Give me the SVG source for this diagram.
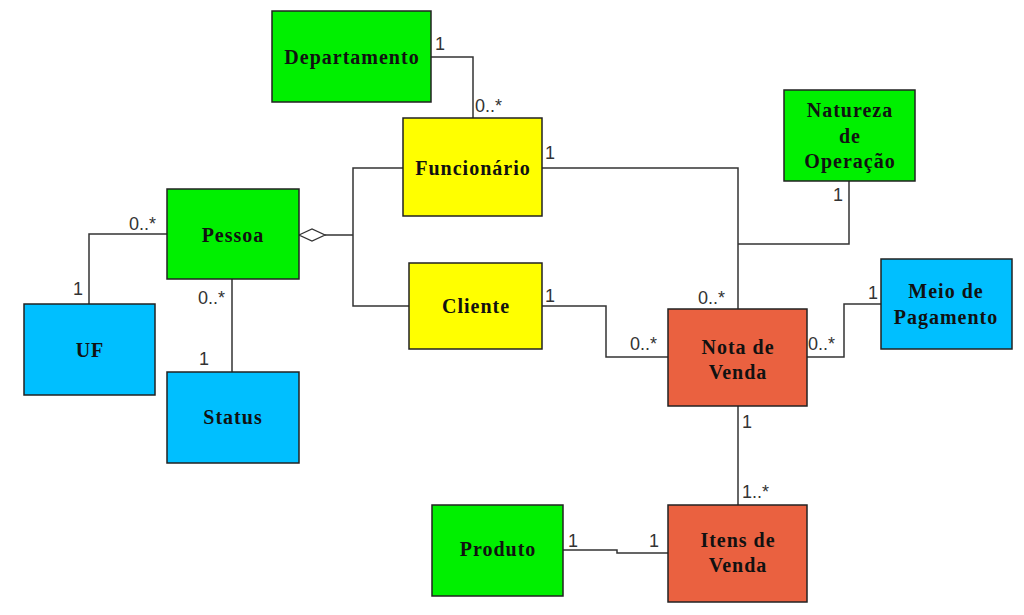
<svg xmlns="http://www.w3.org/2000/svg" width="1024" height="615" viewBox="0 0 1024 615">
<style>
.box{stroke:#222;stroke-width:1.5}
.g{fill:#00f000}.y{fill:#ffff00}.b{fill:#00bfff}.o{fill:#ea6140}
.t{font-family:"Liberation Serif","Times New Roman",serif;font-weight:bold;font-size:20px;letter-spacing:1px;fill:#111;text-anchor:middle}
.m{font-family:"Liberation Sans",Arial,sans-serif;font-size:18px;fill:#333}
.c{fill:none;stroke:#333;stroke-width:1.5}
</style>
<rect width="1024" height="615" fill="#fff"/>
<g id="connectors">
<polyline class="c" points="431,57 473,57 473,118"/>
<polyline class="c" points="542,168 738,168 738,309"/>
<polyline class="c" points="849,181 849,244 738,244"/>
<polyline class="c" points="403,168 353,168 353,306 409,306"/>
<polyline class="c" points="325,235 353,235"/>
<polygon points="299,235 312,229 325,235 312,241" fill="#fff" stroke="#333" stroke-width="1.3"/>
<polyline class="c" points="167,234 89,234 89,304"/>
<polyline class="c" points="232,279 232,372"/>
<polyline class="c" points="542,306 606,306 606,357 668,357"/>
<polyline class="c" points="807,357 844,357 844,304 881,304"/>
<polyline class="c" points="738,406 738,505"/>
<polyline class="c" points="563,550 617,550 617,553 668,553"/>
</g>
<g id="labels">
<text class="m" x="435" y="50">1</text>
<text class="m" x="475" y="112">0..*</text>
<text class="m" x="545" y="159">1</text>
<text class="m" x="129" y="230">0..*</text>
<text class="m" x="73" y="295">1</text>
<text class="m" x="198" y="304">0..*</text>
<text class="m" x="199" y="365">1</text>
<text class="m" x="545" y="302">1</text>
<text class="m" x="630" y="350">0..*</text>
<text class="m" x="698" y="304">0..*</text>
<text class="m" x="833" y="201">1</text>
<text class="m" x="868" y="299">1</text>
<text class="m" x="808" y="350">0..*</text>
<text class="m" x="742" y="428">1</text>
<text class="m" x="742" y="498">1..*</text>
<text class="m" x="568" y="547">1</text>
<text class="m" x="649" y="547">1</text>
</g>
<g id="departamento"><rect class="box g" x="272" y="11" width="159" height="91"/><text class="t" x="352" y="64">Departamento</text></g>
<g id="funcionario"><rect class="box y" x="403" y="118" width="139" height="98"/><text class="t" x="473" y="175">Funcionário</text></g>
<g id="natureza"><rect class="box g" x="784" y="90" width="131" height="91"/><text class="t" x="850" y="117">Natureza</text><text class="t" x="850" y="143">de</text><text class="t" x="850" y="168">Operação</text></g>
<g id="pessoa"><rect class="box g" x="167" y="189" width="132" height="90"/><text class="t" x="233" y="242">Pessoa</text></g>
<g id="cliente"><rect class="box y" x="409" y="263" width="133" height="86"/><text class="t" x="476" y="313">Cliente</text></g>
<g id="uf"><rect class="box b" x="24" y="304" width="131" height="91"/><text class="t" x="90" y="357">UF</text></g>
<g id="status"><rect class="box b" x="167" y="372" width="132" height="91"/><text class="t" x="233" y="424">Status</text></g>
<g id="meio"><rect class="box b" x="881" y="259" width="131" height="90"/><text class="t" x="946" y="298">Meio de</text><text class="t" x="946" y="324">Pagamento</text></g>
<g id="nota"><rect class="box o" x="668" y="309" width="139" height="97"/><text class="t" x="738" y="354">Nota de</text><text class="t" x="738" y="379">Venda</text></g>
<g id="itens"><rect class="box o" x="668" y="505" width="139" height="97"/><text class="t" x="738" y="547">Itens de</text><text class="t" x="738" y="572">Venda</text></g>
<g id="produto"><rect class="box g" x="432" y="505" width="131" height="91"/><text class="t" x="498" y="556">Produto</text></g>
</svg>
